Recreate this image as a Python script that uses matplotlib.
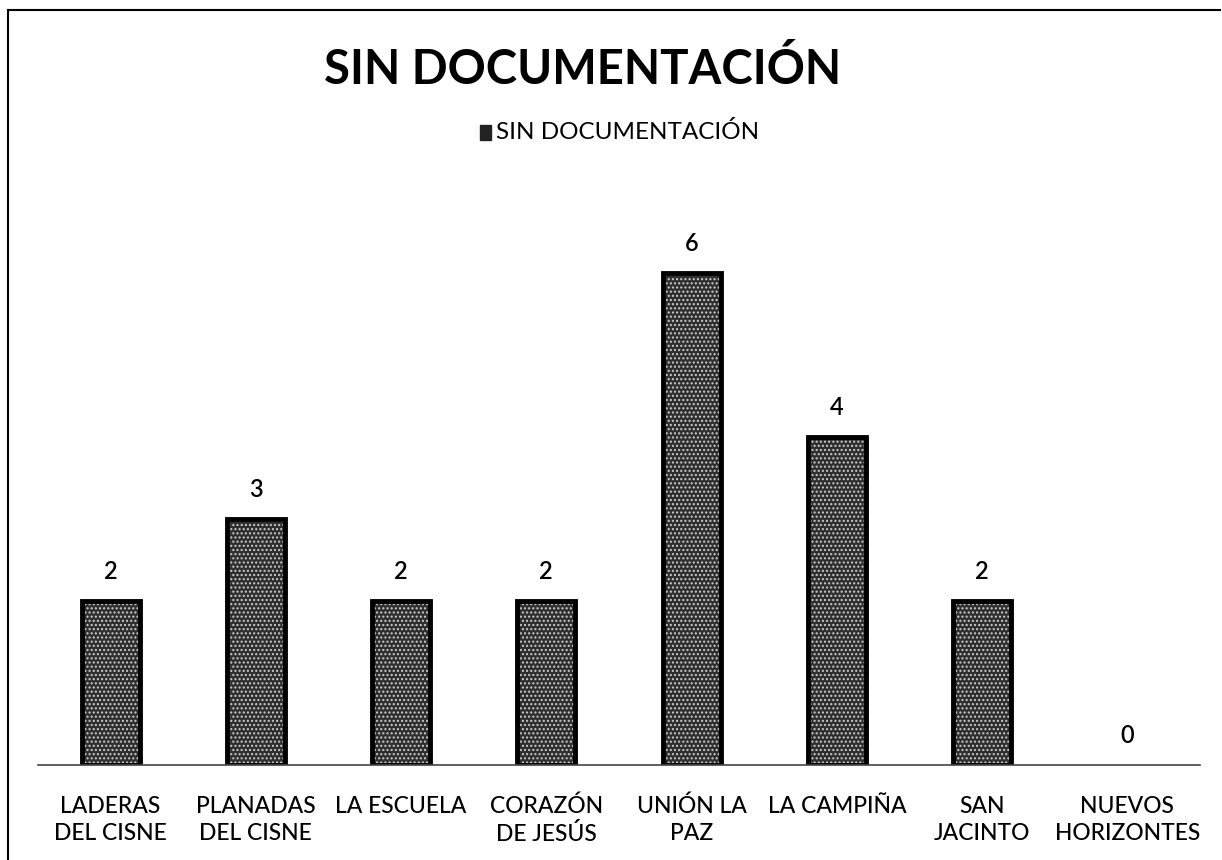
import matplotlib
matplotlib.use("Agg")
import matplotlib.pyplot as plt
from matplotlib.patches import Rectangle
from matplotlib.lines import Line2D

plt.rcParams['font.family'] = ['Lato', 'DejaVu Sans']

categorias = ["LADERAS\nDEL CISNE", "PLANADAS\nDEL CISNE", "LA ESCUELA", "CORAZÓN\nDE JESÚS",
              "UNIÓN LA\nPAZ", "LA CAMPIÑA", "SAN\nJACINTO", "NUEVOS\nHORIZONTES"]
valores = [2, 3, 2, 2, 6, 4, 2, 0]
serie = "SIN DOCUMENTACIÓN"

W, H = 1222, 860
fig = plt.figure(figsize=(W / 100, H / 100), dpi=100)

# marco exterior
fig.add_artist(Line2D([8 / W, 8 / W], [0, 1 - 10 / H], color="black", lw=1.5, transform=fig.transFigure))
fig.add_artist(Line2D([8 / W, 1220 / W], [1 - 10 / H, 1 - 10 / H], color="black", lw=1.5, transform=fig.transFigure))

ax = fig.add_axes([38 / W, 1 - 765 / H, (1200 - 38) / W, (765 - 191) / H])
x = range(len(valores))
bars = ax.bar(x, valores, width=0.40, color="#2f2f2f", edgecolor="black", linewidth=3.5,
              hatch="....", zorder=2)
for b, v in zip(bars, valores):
    b._hatch_color = (0.8, 0.8, 0.8, 1.0)
    if v == 0:
        b.set_linewidth(0)

for i, v in enumerate(valores):
    ax.text(i, v + 0.22, str(v), ha="center", va="bottom", fontsize=17, fontweight="semibold")

ax.set_xlim(-0.5, len(valores) - 0.5)
ax.set_ylim(0, 7)
ax.set_yticks([])
ax.set_xticks(list(x))
ax.set_xticklabels(categorias, fontsize=16.5, linespacing=1.35, fontweight="medium")
ax.tick_params(axis="x", length=0, pad=22)
for s in ["top", "right", "left"]:
    ax.spines[s].set_visible(False)
ax.spines["bottom"].set_color("#444444")
ax.spines["bottom"].set_linewidth(1.2)

fig.text(583 / W, 1 - 70 / H, "SIN DOCUMENTACIÓN", ha="center", va="center",
         fontsize=34, fontweight="bold")

# leyenda
fig.add_artist(Rectangle((480 / W, 1 - 140 / H), 11 / W, 15 / H, color="#222222",
                         transform=fig.transFigure))
fig.text(496 / W, 1 - 132 / H, serie, ha="left", va="center", fontsize=17.5)

fig.savefig("out.png", dpi=100)
